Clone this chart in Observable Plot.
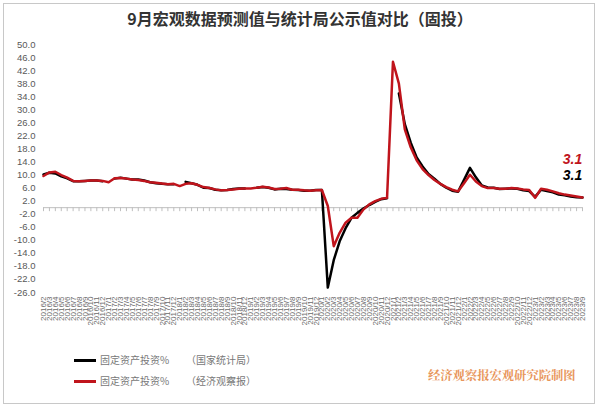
<!DOCTYPE html>
<html><head><meta charset="utf-8">
<script src="https://cdn.jsdelivr.net/npm/d3@7"></script>
<script src="https://cdn.jsdelivr.net/npm/@observablehq/plot@0.6"></script>
<style>
body{margin:0;background:#fff;}
#wrap{position:relative;width:600px;height:410px;overflow:hidden;background:#fff;font-family:"Noto Sans CJK SC","Noto Sans",sans-serif;}
#frame{position:absolute;left:3px;top:3px;width:592px;height:401px;border:1px solid #c8c8c8;box-sizing:border-box;}
#title{position:absolute;left:0;top:7px;width:600px;text-align:center;font-size:16px;font-weight:bold;color:#333;line-height:22px;}
#chart{position:absolute;left:0;top:30px;}
.sw{position:absolute;left:74px;width:22px;height:3px;}
.lt{position:absolute;font-size:10px;color:#777;line-height:14px;white-space:nowrap;}
#cap{position:absolute;left:428px;top:366px;font-size:12.3px;color:#e8955a;font-family:"Noto Serif CJK SC","Noto Sans CJK SC",serif;font-weight:bold;line-height:18px;white-space:nowrap;}
</style>
</head><body>
<div id="wrap">
  <div id="frame"></div>
  <div id="title"></div>
  <div id="chart"></div>
  <div id="legend"></div>
  <div id="cap"></div>
</div>
<script>
const titleText = "9月宏观数据预测值与统计局公示值对比（固投）";
const captionText = "经济观察报宏观研究院制图";
const seriesNames = ["固定资产投资%", "固定资产投资%"];
const seriesSources = ["（国家统计局）", "（经济观察报）"];
const seriesColors = ["#000000", "#c0141c"];

const months = [
 "2016/2","2016/3","2016/4","2016/5","2016/6","2016/7","2016/8","2016/9","2016/10","2016/11","2016/12",
 "2017/1","2017/2","2017/3","2017/4","2017/5","2017/6","2017/7","2017/8","2017/9","2017/10","2017/11","2017/12",
 "2018/1","2018/2","2018/3","2018/4","2018/5","2018/6","2018/7","2018/8","2018/9","2018/10","2018/11","2018/12",
 "2019/1","2019/2","2019/3","2019/4","2019/5","2019/6","2019/7","2019/8","2019/9","2019/10","2019/11","2019/12",
 "2020/1","2020/2","2020/3","2020/4","2020/5","2020/6","2020/7","2020/8","2020/9","2020/10","2020/11","2020/12",
 "2021/1","2021/2","2021/3","2021/4","2021/5","2021/6","2021/7","2021/8","2021/9","2021/10","2021/11","2021/12",
 "2022/1","2022/2","2022/3","2022/4","2022/5","2022/6","2022/7","2022/8","2022/9","2022/10","2022/11","2022/12",
 "2023/1","2023/2","2023/3","2023/4","2023/5","2023/6","2023/7","2023/8","2023/9"
];

// 国家统计局 (black)
const nbs = [
 10.2,10.7,10.5,9.6,9.0,8.1,8.1,8.2,8.3,8.3,8.1,
 null,8.9,9.2,8.9,8.6,8.6,8.3,7.8,7.5,7.3,7.2,7.2,
 null,7.9,7.5,7.0,6.1,6.0,5.5,5.3,5.4,5.7,5.9,5.9,
 null,6.1,6.3,6.1,5.6,5.8,5.7,5.5,5.4,5.2,5.2,5.4,
 5.4,-24.5,-16.1,-10.3,-6.3,-3.1,-1.6,-0.3,0.8,1.8,2.6,2.9,
 null,35.0,25.6,19.9,15.4,12.6,10.3,8.9,7.3,6.1,5.2,4.9,
 8.5,12.2,9.3,6.8,6.2,6.1,5.7,5.8,5.9,5.8,5.3,5.1,
 3.3,5.5,5.1,4.7,4.0,3.8,3.4,3.2,3.1
];

// 经济观察报 (red)
const eeo = [
 9.7,10.8,11.0,10.0,9.2,8.2,8.1,8.2,8.3,8.3,8.2,
 7.8,9.0,9.1,8.9,8.6,8.5,8.2,7.8,7.6,7.4,7.2,7.3,
 6.6,7.3,7.5,7.0,6.3,6.0,5.6,5.3,5.4,5.6,5.8,5.9,
 5.9,6.1,6.4,6.2,5.7,5.8,6.0,5.5,5.5,5.3,5.2,5.3,
 5.4,0.5,-11.8,-7.7,-4.6,-3.1,-3.1,-0.6,1.0,2.0,2.7,3.0,
 44.7,38.0,24.0,18.5,14.5,11.8,10.0,8.5,7.3,6.3,5.5,5.0,
 7.5,10.1,8.0,6.6,6.0,6.0,5.8,5.8,6.0,5.9,5.6,5.4,
 3.0,5.8,5.5,5.0,4.4,4.0,3.7,3.4,3.1
];

const yTicks = [-26,-22,-18,-14,-10,-6,-2,2,6,10,14,18,22,26,30,34,38,42,46,50];

const rows = months.map((m, i) => ({m, nbs: nbs[i], eeo: eeo[i]}));
const lastIdx = months.length - 1;
const lastRed = [{m: months[lastIdx], v: eeo[lastIdx]}];
const lastBlack = [{m: months[lastIdx], v: nbs[lastIdx]}];

document.getElementById("title").textContent = titleText;
document.getElementById("cap").textContent = captionText;

const chart = Plot.plot({
  width: 600, height: 310,
  marginLeft: 43, marginRight: 18, marginTop: 14, marginBottom: 48,
  style: {fontFamily: "'Liberation Sans', Arial, sans-serif", fontSize: "9.5px", color: "#595959", background: "transparent", overflow: "visible"},
  x: {type: "point", domain: months, padding: 0, label: null},
  y: {domain: [-26, 50], label: null},
  marks: [
    Plot.axisY(yTicks, {tickSize: 0, tickPadding: 8, tickFormat: d => d.toFixed(1), fontSize: 9.5, label: null}),
    Plot.axisX(months, {anchor: "bottom", tickRotate: -90, tickSize: 0, tickPadding: 4, fontSize: 8, fill: "#6a6a6a", label: null}),
    Plot.ruleY([0], {stroke: "#bfbfbf", strokeWidth: 1}),
    Plot.ruleX(months, {x: d => d, y1: 0, y2: 0, insetBottom: -4, stroke: "#bfbfbf", strokeWidth: 1}),
    Plot.line(rows, {x: "m", y: "nbs", stroke: seriesColors[0], strokeWidth: 2.5, strokeLinejoin: "round"}),
    Plot.line(rows, {x: "m", y: "eeo", stroke: seriesColors[1], strokeWidth: 2.5, strokeLinejoin: "round"}),
    Plot.text(lastRed, {x: "m", y: "v", text: d => d.v.toFixed(1), fill: seriesColors[1], dx: -10, dy: -38, fontSize: 14, fontWeight: "bold", fontStyle: "italic"}),
    Plot.text(lastBlack, {x: "m", y: "v", text: d => d.v.toFixed(1), fill: seriesColors[0], dx: -10, dy: -22, fontSize: 14, fontWeight: "bold", fontStyle: "italic"})
  ]
});
document.getElementById("chart").appendChild(chart);

const legend = document.getElementById("legend");
[0, 1].forEach(i => {
  const top = 360 + i * 21;
  const sw = document.createElement("div");
  sw.className = "sw"; sw.style.top = (top - 1.5) + "px"; sw.style.background = seriesColors[i];
  legend.appendChild(sw);
  const t1 = document.createElement("div");
  t1.className = "lt"; t1.style.left = "100px"; t1.style.top = (top - 7.5) + "px"; t1.textContent = seriesNames[i];
  legend.appendChild(t1);
  const t2 = document.createElement("div");
  t2.className = "lt"; t2.style.left = "186px"; t2.style.top = (top - 7.5) + "px"; t2.textContent = seriesSources[i];
  legend.appendChild(t2);
});
</script>
</body></html>
